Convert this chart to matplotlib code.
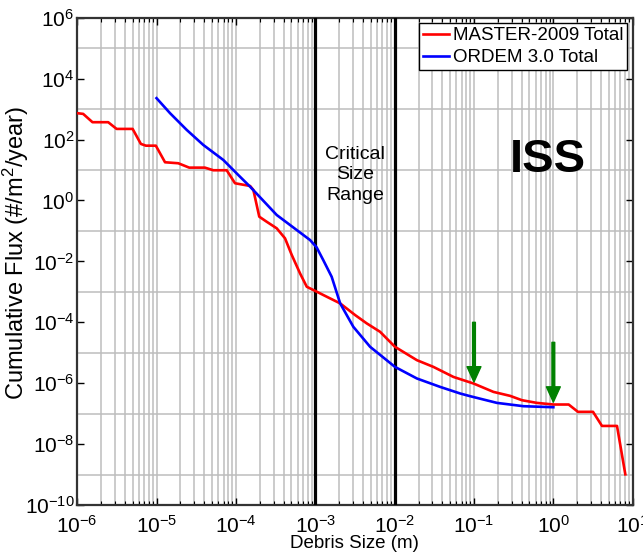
import numpy as np
import matplotlib.pyplot as plt
from matplotlib.ticker import FixedLocator, NullFormatter, LogLocator

plt.rcParams['font.family'] = ['Liberation Sans', 'DejaVu Sans']
plt.rcParams['mathtext.fontset'] = 'custom'
plt.rcParams['mathtext.rm'] = 'Liberation Sans'
plt.rcParams['mathtext.it'] = 'Liberation Sans:italic'
plt.rcParams['axes.unicode_minus'] = False

# MASTER-2009 total (debris size in m, cumulative flux in #/m^2/year)
master_size = [1.0e-6, 1.19e-6, 1.56e-6, 2.46e-6, 3.14e-6, 5.0e-6, 6.35e-6, 7.35e-6,
               9.8e-6, 1.28e-5, 1.88e-5, 2.58e-5, 4.07e-5, 5.19e-5, 7.66e-5, 9.75e-5,
               1.51e-4, 1.66e-4, 1.97e-4, 2.44e-4, 3.27e-4, 4.16e-4, 5.06e-4, 6.43e-4,
               7.82e-4, 9.93e-4, 1.40e-3, 2.06e-3, 3.18e-3, 4.46e-3, 6.56e-3, 1.01e-2,
               1.91e-2, 3.08e-2, 5.51e-2, 9.86e-2, 0.176, 0.286, 0.402, 0.621,
               1.0, 1.56, 2.04, 3.16, 4.10, 6.34, 8.07]
master_flux = [736, 698, 372, 372, 224, 224, 72.1, 63.1,
               63.1, 18.0, 16.7, 12.0, 12.0, 9.84, 9.84, 3.68,
               3.0, 2.22, 0.294, 0.201, 0.122, 0.0573, 0.0162, 4.05e-3,
               1.47e-3, 1.08e-3, 6.89e-4, 4.18e-4, 1.73e-4, 9.2e-5, 4.88e-5, 1.57e-5,
               5.71e-6, 3.44e-6, 1.61e-6, 9.8e-7, 5.19e-7, 3.84e-7, 2.77e-7, 2.26e-7,
               2.0e-7, 2.0e-7, 1.15e-7, 1.15e-7, 3.96e-8, 3.96e-8, 1.02e-9]

# ORDEM 3.0 total
ordem_size = [1.0e-5, 1.48e-5, 2.40e-5, 3.88e-5, 6.93e-5, 1.07e-4, 1.51e-4, 3.27e-4,
              5.85e-4, 8.59e-4, 1.04e-3, 1.26e-3, 1.61e-3, 2.06e-3, 3.02e-3, 4.91e-3,
              1.01e-2, 1.91e-2, 3.74e-2, 6.70e-2, 8.95e-2, 0.195, 0.421, 1.0]
ordem_flux = [2290, 736, 208, 66.8, 21.5, 6.90, 2.84, 0.334,
              0.107, 0.0504, 0.029, 0.0111, 3.13e-3, 4.18e-4, 7.11e-5, 1.57e-5,
              3.44e-6, 1.43e-6, 7.59e-7, 4.60e-7, 3.75e-7, 2.26e-7, 1.76e-7, 1.63e-7]

critical_range = [1e-3, 1e-2]
arrow_x = [0.1, 1.0]
arrow_top = [1.0e-4, 2.2e-5]
arrow_tip = [1.1e-6, 2.4e-7]

fig = plt.figure(figsize=(6.43, 5.55), dpi=100)
ax = fig.add_axes([0.120, 0.090, 0.864, 0.878])

ax.set_xscale('log')
ax.set_yscale('log')
ax.set_xlim(1e-6, 1e1)
ax.set_ylim(1e-10, 1e6)

# grid: vertical at every decade and sub-decade, horizontal at odd powers only
ax.xaxis.set_major_locator(LogLocator(base=10, numticks=20))
ax.xaxis.set_minor_locator(LogLocator(base=10, subs=np.arange(2, 10), numticks=20))
ax.xaxis.set_minor_formatter(NullFormatter())
ax.yaxis.set_major_locator(FixedLocator([10.0 ** k for k in range(-10, 7, 2)]))
ax.yaxis.set_minor_locator(FixedLocator([10.0 ** k for k in range(-9, 6, 2)]))
ax.yaxis.set_minor_formatter(NullFormatter())
ax.grid(True, which='both', axis='x', color='#bdbdbd', lw=1.1)
ax.grid(True, which='minor', axis='y', color='#bdbdbd', lw=1.1)
ax.set_axisbelow(True)

ax.tick_params(which='both', direction='in', top=True, right=True, labelsize=15)
ax.tick_params(which='major', length=5, width=1)
ax.tick_params(axis='y', which='major', pad=2)
ax.tick_params(axis='x', which='major', pad=7)
ax.tick_params(axis='x', which='minor', length=3, width=0.8)
ax.tick_params(axis='y', which='minor', length=0)
for s in ax.spines.values():
    s.set_linewidth(1.6)
    s.set_color('#333333')

for c in critical_range:
    ax.axvline(c, color='black', lw=2.3, zorder=3)

ax.plot(master_size, master_flux, color='red', lw=1.9, label='MASTER-2009 Total', zorder=4)
ax.plot(ordem_size, ordem_flux, color='blue', lw=1.9, label='ORDEM 3.0 Total', zorder=4)

for xa, yt, yb in zip(arrow_x, arrow_top, arrow_tip):
    ax.annotate('', xy=(xa, yb), xytext=(xa, yt),
                arrowprops=dict(width=2.0, headwidth=10, headlength=11,
                                shrink=0, color='green'), zorder=5)

ax.text(np.sqrt(critical_range[0] * critical_range[1]), 10 ** 0.84, 'Critical\nSize\nRange',
        ha='center', va='center', fontsize=14, linespacing=1.25)
ax.text(0.86, 10 ** 1.33, 'ISS', ha='center', va='center', fontsize=34, fontweight='bold')

ax.set_xlabel('Debris Size (m)', fontsize=13.5, labelpad=-1)
ax.set_ylabel('Cumulative Flux (#/m$^2$/year)', fontsize=17)
ax.yaxis.set_label_coords(-0.083, 0.517)

leg = ax.legend(loc='upper right', fontsize=13.5, frameon=True, fancybox=False,
                framealpha=1, edgecolor='black', handlelength=1.4, handletextpad=0.2,
                labelspacing=0.25, borderpad=0.2, borderaxespad=0.3)
leg.get_frame().set_linewidth(1.0)

fig.savefig('out.png', dpi=100)
